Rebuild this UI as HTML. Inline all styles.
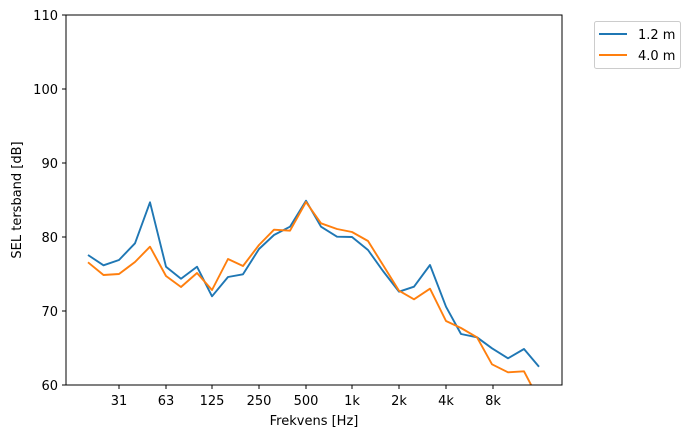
<!DOCTYPE html>
<html><head><meta charset="utf-8"><style>body{margin:0;background:#fff}svg{display:block}text{font-family:"DejaVu Sans",sans-serif;font-size:13px;fill:#000}</style></head><body>
<svg width="693" height="438" viewBox="0 0 693 438">
<defs><clipPath id="c"><rect x="66" y="15" width="496" height="370"/></clipPath></defs>
<g clip-path="url(#c)" fill="none" stroke-width="1.9" stroke-linejoin="round">
<polyline stroke="#1f77b4" points="88,255 103.5,265.3 119,260 135,243.3 150,202.3 166,266.7 181,278.7 197,266.7 212,296.3 228,277 243,274.3 259,249 274,235 290,226.7 306,200.7 321,226.7 337,236.7 352,237 368,250 383,271 399,291.7 414,286.7 430,265 446,306.7 461,334 477,337.3 492,348.3 508,358.3 524,349 539,366.7"/>
<polyline stroke="#ff7f0e" points="88,262.3 103.5,275 119,274 135,262 150,246.7 166,276 181,287 197,273 212,290 228,259 243,266 259,245 274,229.7 290,230.7 306,202 321,223.3 337,229 352,232 368,241 383,265 399,290.7 414,299.3 430,288.7 446,321 461,328 477,337.3 492,364.3 508,372.3 524,371.3 539,400"/>
</g>
<rect x="66" y="15" width="496" height="370" fill="none" stroke="#000" stroke-width="1"/>
<g stroke="#000" stroke-width="1">
<line x1="119" y1="385" x2="119" y2="389"/><line x1="166" y1="385" x2="166" y2="389"/><line x1="212" y1="385" x2="212" y2="389"/><line x1="259" y1="385" x2="259" y2="389"/><line x1="306" y1="385" x2="306" y2="389"/><line x1="352" y1="385" x2="352" y2="389"/><line x1="399" y1="385" x2="399" y2="389"/><line x1="446" y1="385" x2="446" y2="389"/><line x1="493" y1="385" x2="493" y2="389"/>
<line x1="62" y1="385" x2="66" y2="385"/><line x1="62" y1="311" x2="66" y2="311"/><line x1="62" y1="237" x2="66" y2="237"/><line x1="62" y1="163" x2="66" y2="163"/><line x1="62" y1="89" x2="66" y2="89"/><line x1="62" y1="15" x2="66" y2="15"/>
</g>
<g text-anchor="middle">
<text x="119" y="405">31</text><text x="166" y="405">63</text><text x="212" y="405">125</text><text x="259" y="405">250</text><text x="306" y="405">500</text><text x="352" y="405">1k</text><text x="399" y="405">2k</text><text x="446" y="405">4k</text><text x="493" y="405">8k</text>
<text x="314" y="425">Frekvens [Hz]</text>
</g>
<g text-anchor="end">
<text x="58" y="390">60</text><text x="58" y="316">70</text><text x="58" y="242">80</text><text x="58" y="168">90</text><text x="58" y="94">100</text><text x="58" y="20">110</text>
</g>
<text transform="translate(21,200) rotate(-90)" text-anchor="middle">SEL tersband [dB]</text>
<rect x="594.5" y="21.5" width="86" height="47" rx="2" fill="#fff" stroke="#ccc"/>
<line x1="599" y1="34" x2="627" y2="34" stroke="#1f77b4" stroke-width="1.9"/>
<line x1="599" y1="55" x2="627" y2="55" stroke="#ff7f0e" stroke-width="1.9"/>
<text x="638" y="39">1.2 m</text><text x="638" y="60">4.0 m</text>
</svg>
</body></html>
